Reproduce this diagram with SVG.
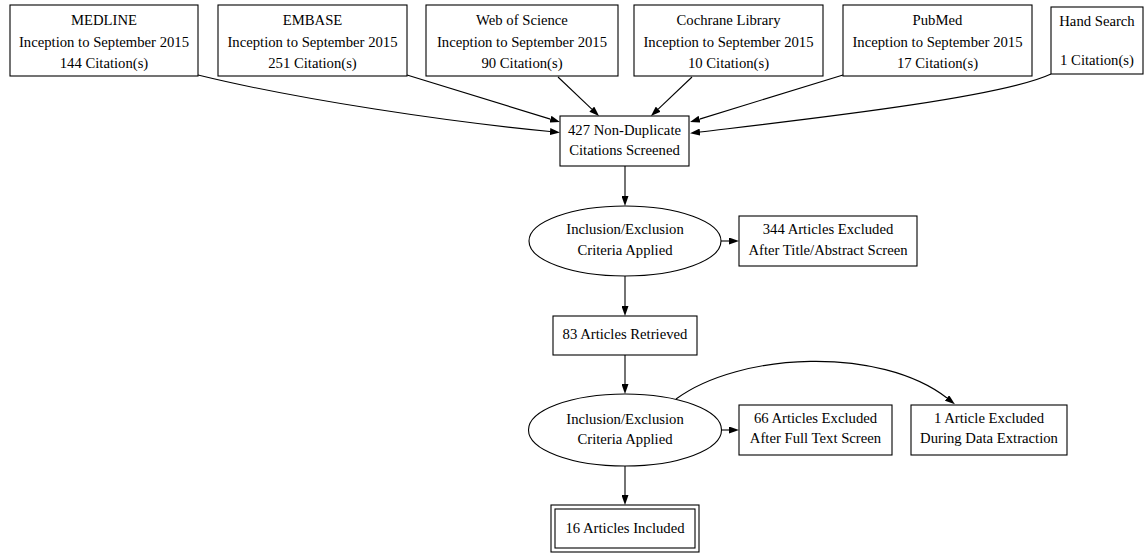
<svg xmlns="http://www.w3.org/2000/svg" width="1144" height="553" viewBox="0 0 1144 553">
<style>
.box{fill:#fff;stroke:#000;stroke-width:1.1}
.t{font-family:"Liberation Serif","Times New Roman",serif;font-size:14.7px;fill:#000;text-anchor:middle}
.e{fill:none;stroke:#000;stroke-width:1.1}
</style>
<defs>
<marker id="ah" viewBox="0 0 10 7" refX="0" refY="3.5" markerUnits="userSpaceOnUse" markerWidth="10" markerHeight="7" orient="auto">
<path d="M0,0 L10,3.5 L0,7 z" fill="#000"/>
</marker>
</defs>
<rect width="1144" height="553" fill="#fff"/>
<g id="medline"><rect class="box" x="10" y="5" width="188" height="71"/><text class="t" x="104" y="25">MEDLINE</text><text class="t" x="104" y="47">Inception to September 2015</text><text class="t" x="104" y="68">144 Citation(s)</text></g>
<g id="embase"><rect class="box" x="218" y="5" width="189" height="71"/><text class="t" x="312.5" y="25">EMBASE</text><text class="t" x="312.5" y="47">Inception to September 2015</text><text class="t" x="312.5" y="68">251 Citation(s)</text></g>
<g id="wos"><rect class="box" x="426" y="5" width="192" height="71"/><text class="t" x="522" y="25">Web of Science</text><text class="t" x="522" y="47">Inception to September 2015</text><text class="t" x="522" y="68">90 Citation(s)</text></g>
<g id="cochrane"><rect class="box" x="634" y="5" width="189" height="71"/><text class="t" x="728.5" y="25">Cochrane Library</text><text class="t" x="728.5" y="47">Inception to September 2015</text><text class="t" x="728.5" y="68">10 Citation(s)</text></g>
<g id="pubmed"><rect class="box" x="843" y="5" width="189" height="71"/><text class="t" x="937.5" y="25">PubMed</text><text class="t" x="937.5" y="47">Inception to September 2015</text><text class="t" x="937.5" y="68">17 Citation(s)</text></g>
<g id="hand"><rect class="box" x="1051" y="7" width="92" height="67"/><text class="t" x="1097" y="26">Hand Search</text><text class="t" x="1097" y="65">1 Citation(s)</text></g>
<g id="screened"><rect class="box" x="560" y="116" width="129" height="50"/><text class="t" x="624.5" y="135">427 Non-Duplicate</text><text class="t" x="624.5" y="155">Citations Screened</text></g>
<g id="criteria1"><ellipse class="box" cx="625" cy="241" rx="96" ry="35"/><text class="t" x="625" y="234">Inclusion/Exclusion</text><text class="t" x="625" y="255">Criteria Applied</text></g>
<g id="excluded344"><rect class="box" x="739" y="216" width="178" height="50"/><text class="t" x="828" y="234">344 Articles Excluded</text><text class="t" x="828" y="255">After Title/Abstract Screen</text></g>
<g id="retrieved"><rect class="box" x="553" y="316" width="144" height="39"/><text class="t" x="625" y="339">83 Articles Retrieved</text></g>
<g id="criteria2"><ellipse class="box" cx="625" cy="430" rx="96.5" ry="36"/><text class="t" x="625" y="424">Inclusion/Exclusion</text><text class="t" x="625" y="444">Criteria Applied</text></g>
<g id="excluded66"><rect class="box" x="739" y="405" width="153" height="50"/><text class="t" x="815.5" y="423">66 Articles Excluded</text><text class="t" x="815.5" y="443">After Full Text Screen</text></g>
<g id="excluded1"><rect class="box" x="911" y="405" width="156" height="50"/><text class="t" x="989" y="423">1 Article Excluded</text><text class="t" x="989" y="443">During Data Extraction</text></g>
<g id="included"><rect class="box" x="551" y="505" width="148" height="47"/><rect class="box" x="555" y="509" width="140" height="39"/><text class="t" x="625" y="533">16 Articles Included</text></g>
<g id="connectors">
<path class="e" marker-end="url(#ah)" d="M198,75 C300,100 450,122 550,131.5"/>
<path class="e" marker-end="url(#ah)" d="M407,75 L550.4,119.1"/>
<path class="e" marker-end="url(#ah)" d="M558,77 L591.8,109.1"/>
<path class="e" marker-end="url(#ah)" d="M692,77 L658.2,109.1"/>
<path class="e" marker-end="url(#ah)" d="M843,75 L699.6,119.1"/>
<path class="e" marker-end="url(#ah)" d="M1051,74 C1000,98 800,120 700,132"/>
<path class="e" marker-end="url(#ah)" d="M625,166 L625,196"/>
<path class="e" marker-end="url(#ah)" d="M721,241 L729,241"/>
<path class="e" marker-end="url(#ah)" d="M625,276 L625,306"/>
<path class="e" marker-end="url(#ah)" d="M625,355 L625,384"/>
<path class="e" marker-end="url(#ah)" d="M721.5,430 L729,430"/>
<path class="e" marker-end="url(#ah)" d="M625,466 L625,495"/>
<path class="e" marker-end="url(#ah)" d="M676,399 C740,352 880,346 947,398"/>
</g>
</svg>
